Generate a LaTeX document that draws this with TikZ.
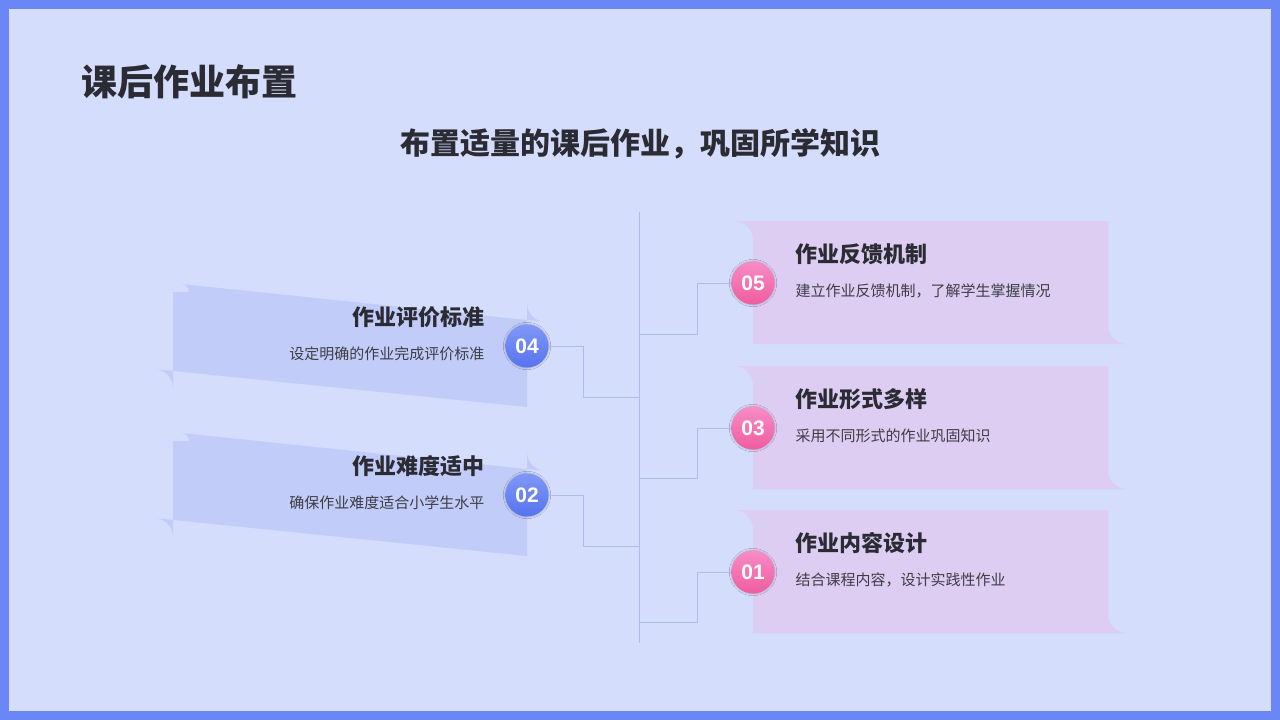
\documentclass[tikz,border=0pt]{standalone}
\usepackage{fontspec}
\setmainfont{Noto Sans CJK SC}
\newfontfamily\numf{Liberation Sans}
\usetikzlibrary{shadows.blur}
\definecolor{bg}{HTML}{D5DDFC}
\definecolor{frame}{HTML}{6B86F5}
\definecolor{lcard}{HTML}{C2CCF8}
\definecolor{rcard}{HTML}{DDCDF3}
\definecolor{txt}{HTML}{2B2B33}
\definecolor{sub}{HTML}{3D3D45}
\definecolor{lnk}{HTML}{AEBCE8}
\definecolor{bA}{HTML}{5773EE}
\definecolor{bB}{HTML}{7F98F7}
\definecolor{pA}{HTML}{F05CA0}
\definecolor{pB}{HTML}{F88CC4}
\tikzset{
 ttl/.style={font=\fontsize{22}{26}\selectfont\bfseries, text=txt},
 desc/.style={font=\fontsize{15}{18}\selectfont, text=sub},
 bnum/.style={circle, minimum size=43pt, inner sep=0pt, top color=bB, bottom color=bA, text=white, font=\numf\fontsize{21}{21}\selectfont\bfseries, blur shadow={shadow blur steps=6,shadow xshift=0pt,shadow yshift=0pt,shadow opacity=25}},
 pnum/.style={bnum, top color=pB, bottom color=pA},
 lnkl/.style={draw=lnk, line width=0.8pt}
}
\begin{document}
\begin{tikzpicture}[x=1pt,y=-1pt]
\useasboundingbox (0,0) rectangle (1280,720);
\fill[frame] (0,0) rectangle (1280,720);
\fill[bg] (9,9) rectangle (1271,711);
\node[anchor=west, font=\fontsize{36}{40}\selectfont\bfseries, text=txt] (title) at (78,82) {课后作业布置};
\node[font=\fontsize{30}{34}\selectfont\bfseries, text=txt] (subt) at (640,144) {布置适量的课后作业，巩固所学知识};
% spine
\coordinate (st) at (639,212); \coordinate (sb) at (639,643);
\draw[lnkl] (st) -- (sb);
% left cards
\foreach \y/\n/\t/\d in {284/04/作业评价标准/设定明确的作业完成评价标准, 433/02/作业难度适中/确保作业难度适合小学生水平}{
 \fill[lcard] (173,\y+8) -- (173,\y+104) arc[start angle=180,end angle=90,radius=-19] -- (527,\y+123) -- (527,\y+19) arc[start angle=0,end angle=-90,radius=-19] -- (181,\y) arc[start angle=90,end angle=180,radius=-8] -- cycle;
 \node[ttl, anchor=east] at (488,\y+33) {\t};
 \node[desc, anchor=east] at (488,\y+70) {\d};
}
% right cards
\foreach \y/\t/\d in {221/作业反馈机制/建立作业反馈机制，了解学生掌握情况, 366/作业形式多样/采用不同形式的作业巩固知识, 510/作业内容设计/结合课程内容，设计实践性作业}{
 \fill[rcard] (753,\y+19) arc[start angle=180,end angle=90,radius=-19] -- (1108,\y) -- (1108,\y+104) arc[start angle=0,end angle=-90,radius=-19] -- (753,\y+123) -- cycle;
 \node[ttl, anchor=west] at (792,\y+33) {\t};
 \node[desc, anchor=west] at (792,\y+70) {\d};
}
% left numbered circles and connectors
\node[bnum] (n04) at (527,346) {04};
\node[bnum] (n02) at (527,495) {02};
\coordinate (j04) at (639,397); \coordinate (j02) at (639,546);
\draw[lnkl] (n04.east) -- (583,346) |- (j04);
\draw[lnkl] (n02.east) -- (583,495) |- (j02);
% right
\node[pnum] (n05) at (753,283) {05};
\node[pnum] (n03) at (753,428) {03};
\node[pnum] (n01) at (753,572) {01};
\coordinate (j05) at (639,334); \coordinate (j03) at (639,478); \coordinate (j01) at (639,622);
\draw[lnkl] (j05) -- (697,334) |- (n05.west);
\draw[lnkl] (j03) -- (697,478) |- (n03.west);
\draw[lnkl] (j01) -- (697,622) |- (n01.west);
\end{tikzpicture}
\end{document}
